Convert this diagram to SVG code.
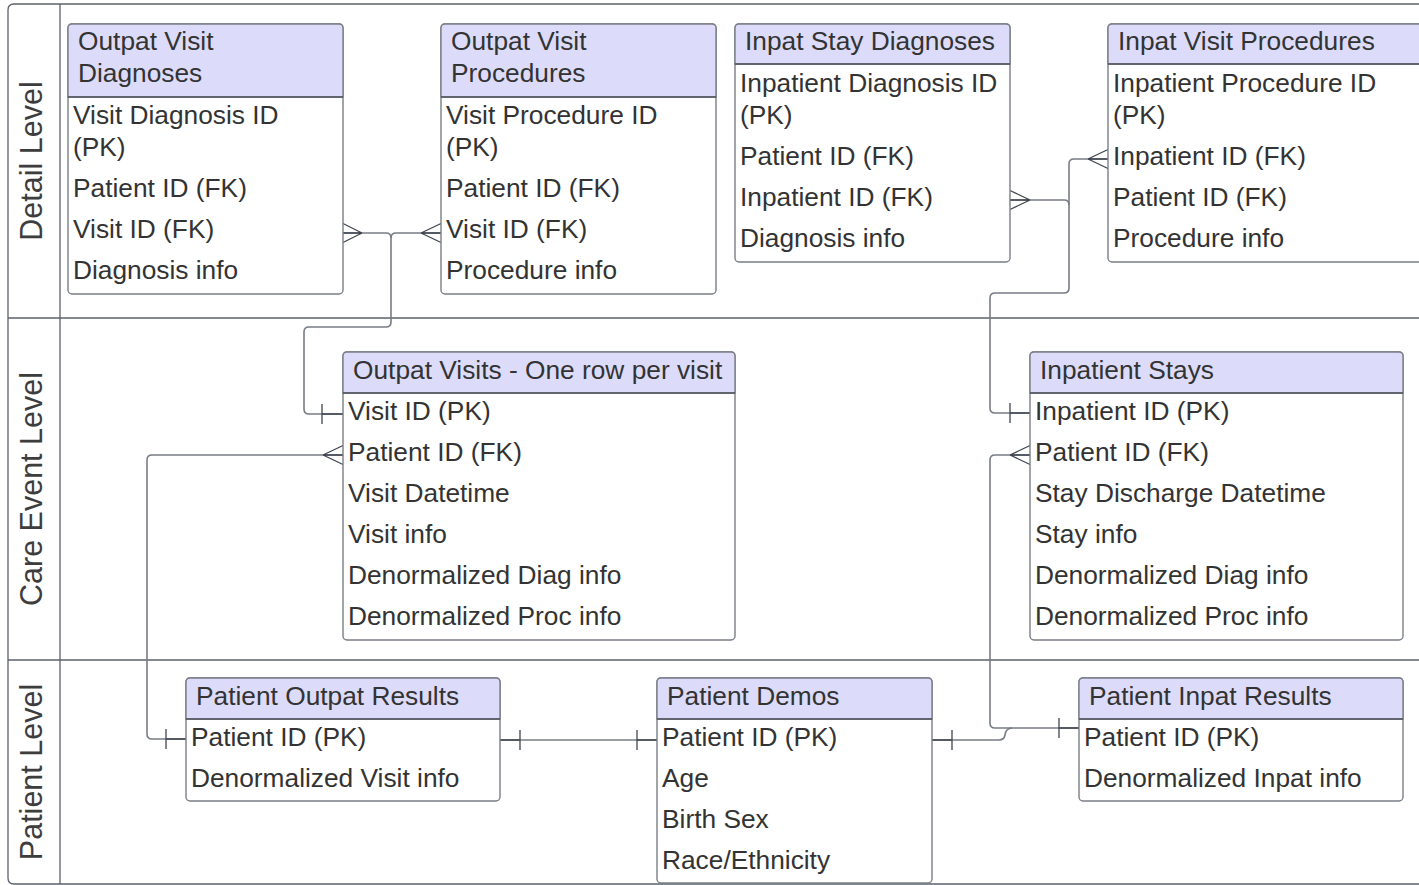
<svg xmlns="http://www.w3.org/2000/svg" width="1419" height="885" viewBox="0 0 1419 885">
<style>
.lane{fill:none;stroke:#5c616b;stroke-width:1.3}
.lanetxt{font-family:"Liberation Sans",Arial,sans-serif;font-size:30.5px;fill:#3d3d3d}
.box{fill:#ffffff;stroke:#7a7e86;stroke-width:1.4}
.hdr{fill:#dcdcfa;stroke:#7a7e86;stroke-width:1.4}
.sep{stroke:#4f545c;stroke-width:1.3}
.t{font-family:"Liberation Sans",Arial,sans-serif;font-size:26.3px;fill:#333333}
.c{fill:none;stroke:#787c84;stroke-width:1.6}
.m{fill:none;stroke:#3f4550;stroke-width:1.3}
</style>
<rect x="0" y="0" width="1419" height="885" fill="#ffffff"/>
<g id="lanes">
<path class="lane" d="M1425,4 H14 Q8,4 8,10 V878 Q8,884 14,884 H1425"/>
<line class="lane" x1="60" y1="4" x2="60" y2="884"/>
<line class="lane" x1="8" y1="318" x2="1425" y2="318"/>
<line class="lane" x1="8" y1="660" x2="1425" y2="660"/>
<text class="lanetxt" transform="translate(42,161) rotate(-90)" text-anchor="middle">Detail Level</text>
<text class="lanetxt" transform="translate(42,489) rotate(-90)" text-anchor="middle">Care Event Level</text>
<text class="lanetxt" transform="translate(42,772) rotate(-90)" text-anchor="middle">Patient Level</text>
</g>
<g id="connectors">
<path class="c" d="M343,233 H386 Q391,233 391,238 V322 Q391,327 386,327 H309 Q304,327 304,332 V409 Q304,414 309,414 H343"/>
<path class="c" d="M441,233 H396 Q391,233 391,238"/>
<path class="c" d="M1108,159 H1074 Q1069,159 1069,164 V288 Q1069,293 1064,293 H995 Q990,293 990,298 V408 Q990,413 995,413 H1030"/>
<path class="c" d="M1010,200 H1064 Q1069,200 1069,205"/>
<path class="c" d="M343,455 H152 Q147,455 147,460 V734 Q147,739 152,739 H186"/>
<path class="c" d="M500,740 H657"/>
<path class="c" d="M932,740 H999 Q1004,740 1005,735 Q1006,728 1012,728 H1079"/>
<path class="c" d="M1030,455 H995 Q990,455 990,460 V723 Q990,728 995,728 H1012"/>
<path class="m" d="M362,233 L343,223.5 M362,233 H343 M362,233 L343,242.5"/>
<path class="m" d="M421,233 L441,223.5 M421,233 H441 M421,233 L441,242.5"/>
<path class="m" d="M322,404 V424 M322,414 H343"/>
<path class="m" d="M1030,200 L1010,190.5 M1030,200 H1010 M1030,200 L1010,209.5"/>
<path class="m" d="M1088,159 L1108,149.5 M1088,159 H1108 M1088,159 L1108,168.5"/>
<path class="m" d="M1010,403 V423 M1010,413 H1030"/>
<path class="m" d="M323,455 L343,445.5 M323,455 H343 M323,455 L343,464.5"/>
<path class="m" d="M166,729 V749 M166,739 H186"/>
<path class="m" d="M520,730 V750 M500,740 H520 M637,730 V750 M637,740 H657"/>
<path class="m" d="M1010,455 L1030,445.5 M1010,455 H1030 M1010,455 L1030,464.5"/>
<path class="m" d="M952,730 V750 M932,740 H952 M1059,718 V738 M1059,728 H1079"/>
</g>
<g id="outpat-visit-diagnoses">
<rect class="box" x="68" y="24" width="275" height="270" rx="4"/>
<path class="hdr" d="M68,97 V28 Q68,24 72,24 H339 Q343,24 343,28 V97 Z"/>
<line class="sep" x1="68" y1="97" x2="343" y2="97"/>
<text class="t" x="78" y="50">Outpat Visit</text>
<text class="t" x="78" y="82">Diagnoses</text>
<text class="t" x="73" y="124">Visit Diagnosis ID</text>
<text class="t" x="73" y="156">(PK)</text>
<text class="t" x="73" y="197">Patient ID (FK)</text>
<text class="t" x="73" y="238">Visit ID (FK)</text>
<text class="t" x="73" y="279">Diagnosis info</text>
</g>
<g id="outpat-visit-procedures">
<rect class="box" x="441" y="24" width="275" height="270" rx="4"/>
<path class="hdr" d="M441,97 V28 Q441,24 445,24 H712 Q716,24 716,28 V97 Z"/>
<line class="sep" x1="441" y1="97" x2="716" y2="97"/>
<text class="t" x="451" y="50">Outpat Visit</text>
<text class="t" x="451" y="82">Procedures</text>
<text class="t" x="446" y="124">Visit Procedure ID</text>
<text class="t" x="446" y="156">(PK)</text>
<text class="t" x="446" y="197">Patient ID (FK)</text>
<text class="t" x="446" y="238">Visit ID (FK)</text>
<text class="t" x="446" y="279">Procedure info</text>
</g>
<g id="inpat-stay-diagnoses">
<rect class="box" x="735" y="24" width="275" height="238" rx="4"/>
<path class="hdr" d="M735,64 V28 Q735,24 739,24 H1006 Q1010,24 1010,28 V64 Z"/>
<line class="sep" x1="735" y1="64" x2="1010" y2="64"/>
<text class="t" x="745" y="50">Inpat Stay Diagnoses</text>
<text class="t" x="740" y="92">Inpatient Diagnosis ID</text>
<text class="t" x="740" y="124">(PK)</text>
<text class="t" x="740" y="165">Patient ID (FK)</text>
<text class="t" x="740" y="206">Inpatient ID (FK)</text>
<text class="t" x="740" y="247">Diagnosis info</text>
</g>
<g id="inpat-visit-procedures">
<rect class="box" x="1108" y="24" width="330" height="238" rx="4"/>
<path class="hdr" d="M1108,64 V28 Q1108,24 1112,24 H1438 V64 Z"/>
<line class="sep" x1="1108" y1="64" x2="1438" y2="64"/>
<text class="t" x="1118" y="50">Inpat Visit Procedures</text>
<text class="t" x="1113" y="92">Inpatient Procedure ID</text>
<text class="t" x="1113" y="124">(PK)</text>
<text class="t" x="1113" y="165">Inpatient ID (FK)</text>
<text class="t" x="1113" y="206">Patient ID (FK)</text>
<text class="t" x="1113" y="247">Procedure info</text>
</g>
<g id="outpat-visits">
<rect class="box" x="343" y="352" width="392" height="288" rx="4"/>
<path class="hdr" d="M343,393 V356 Q343,352 347,352 H731 Q735,352 735,356 V393 Z"/>
<line class="sep" x1="343" y1="393" x2="735" y2="393"/>
<text class="t" x="353" y="379">Outpat Visits - One row per visit</text>
<text class="t" x="348" y="420">Visit ID (PK)</text>
<text class="t" x="348" y="461">Patient ID (FK)</text>
<text class="t" x="348" y="502">Visit Datetime</text>
<text class="t" x="348" y="543">Visit info</text>
<text class="t" x="348" y="584">Denormalized Diag info</text>
<text class="t" x="348" y="625">Denormalized Proc info</text>
</g>
<g id="inpatient-stays">
<rect class="box" x="1030" y="352" width="373" height="288" rx="4"/>
<path class="hdr" d="M1030,393 V356 Q1030,352 1034,352 H1399 Q1403,352 1403,356 V393 Z"/>
<line class="sep" x1="1030" y1="393" x2="1403" y2="393"/>
<text class="t" x="1040" y="379">Inpatient Stays</text>
<text class="t" x="1035" y="420">Inpatient ID (PK)</text>
<text class="t" x="1035" y="461">Patient ID (FK)</text>
<text class="t" x="1035" y="502">Stay Discharge Datetime</text>
<text class="t" x="1035" y="543">Stay info</text>
<text class="t" x="1035" y="584">Denormalized Diag info</text>
<text class="t" x="1035" y="625">Denormalized Proc info</text>
</g>
<g id="patient-outpat-results">
<rect class="box" x="186" y="678" width="314" height="123" rx="4"/>
<path class="hdr" d="M186,719 V682 Q186,678 190,678 H496 Q500,678 500,682 V719 Z"/>
<line class="sep" x1="186" y1="719" x2="500" y2="719"/>
<text class="t" x="196" y="705">Patient Outpat Results</text>
<text class="t" x="191" y="746">Patient ID (PK)</text>
<text class="t" x="191" y="787">Denormalized Visit info</text>
</g>
<g id="patient-demos">
<rect class="box" x="657" y="678" width="275" height="205" rx="4"/>
<path class="hdr" d="M657,719 V682 Q657,678 661,678 H928 Q932,678 932,682 V719 Z"/>
<line class="sep" x1="657" y1="719" x2="932" y2="719"/>
<text class="t" x="667" y="705">Patient Demos</text>
<text class="t" x="662" y="746">Patient ID (PK)</text>
<text class="t" x="662" y="787">Age</text>
<text class="t" x="662" y="828">Birth Sex</text>
<text class="t" x="662" y="869">Race/Ethnicity</text>
</g>
<g id="patient-inpat-results">
<rect class="box" x="1079" y="678" width="324" height="123" rx="4"/>
<path class="hdr" d="M1079,719 V682 Q1079,678 1083,678 H1399 Q1403,678 1403,682 V719 Z"/>
<line class="sep" x1="1079" y1="719" x2="1403" y2="719"/>
<text class="t" x="1089" y="705">Patient Inpat Results</text>
<text class="t" x="1084" y="746">Patient ID (PK)</text>
<text class="t" x="1084" y="787">Denormalized Inpat info</text>
</g>
</svg>
